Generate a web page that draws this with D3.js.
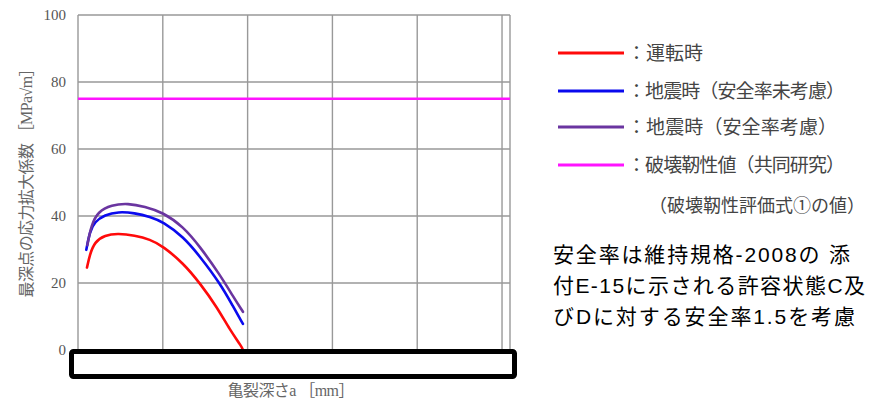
<!DOCTYPE html>
<html>
<head>
<meta charset="utf-8">
<script src="https://cdn.jsdelivr.net/npm/d3@7"></script>
<style>
  body { margin: 0; background: #fff; }
  svg { display: block; }
</style>
</head>
<body>
<div id="chart"></div>
<script>
const WIDTH = 875, HEIGHT = 400;
const PLOT = { left: 78, right: 510, top: 15, bottom: 350 };

// crack depth a [mm] vs stress intensity factor [MPa√m]
const operating = [[1.06, 24.6], [1.38, 28.4], [1.97, 32.3], [3.15, 34.3], [4.72, 34.8], [6.69, 34.2],
    [8.5, 33.0], [10.0, 31.0], [12.42, 25.9], [14.39, 19.9], [16.36, 12.9], [17.92, 6.0], [19.3, 1.0], [19.45, 0]];
const quakeNoFactor = [[0.98, 29.9], [1.38, 35.3], [1.97, 38.3], [3.15, 40.3], [4.72, 41.3], [6.69, 40.9],
    [8.5, 39.8], [10.0, 38.3], [12.42, 33.8], [14.39, 27.9], [16.75, 19.9], [18.31, 12.9], [19.45, 7.8]];
const quakeFactor = [[1.10, 31.3], [1.57, 37.3], [2.36, 41.3], [3.93, 43.3], [5.9, 43.8], [7.87, 42.8],
    [10.0, 41.1], [12.42, 36.8], [14.39, 30.8], [16.75, 22.4], [18.31, 15.9], [19.45, 11.4]];
const toughness = 75;

const xTicks = [0, 10, 20, 30, 40, 50];
const yTicks = [0, 20, 40, 60, 80, 100];
const legendLabels = ["：運転時", "：地震時（安全率未考慮）", "：地震時（安全率考慮）", "：破壊靭性値（共同研究）"];
const legendNote = "（破壊靭性評価式①の値）";
const noteLines = ["安全率は維持規格-2008の 添", "付E-15に示される許容状態C及", "びDに対する安全率1.5を考慮"];
const colors = ["#ff0a0a", "#0a0aee", "#6a35a0", "#ff14ff"];

const svg = d3.select("#chart").append("svg")
    .attr("width", WIDTH)
    .attr("height", HEIGHT)

const x = d3.scaleLinear().domain([0, 50.94]).range([PLOT.left, PLOT.right]);
const y = d3.scaleLinear().domain([0, 100]).range([PLOT.bottom, PLOT.top]);

// grid
const grid = svg.append("g").attr("stroke", "#999").attr("stroke-width", 1.4)
grid.selectAll("line.v").data(xTicks).enter().append("line")
    .attr("x1", d => x(d)).attr("x2", d => x(d))
    .attr("y1", PLOT.top).attr("y2", PLOT.bottom)
grid.selectAll("line.h").data(yTicks).enter().append("line")
    .attr("x1", PLOT.left).attr("x2", PLOT.right)
    .attr("y1", d => y(d)).attr("y2", d => y(d))
grid.append("line").attr("x1", PLOT.right).attr("x2", PLOT.right)
    .attr("y1", PLOT.top).attr("y2", PLOT.bottom)

// y tick labels
svg.append("g").selectAll("text").data(yTicks).enter().append("text")
    .attr("x", 66).attr("y", d => y(d) + 5)
    .attr("text-anchor", "end")
    .attr("font-family", "Liberation Serif, DejaVu Serif, serif")
    .attr("font-size", 15)
    .attr("fill", "#555")
    .text(d => d)

// fracture toughness line
svg.append("line")
    .attr("x1", PLOT.left).attr("x2", PLOT.right)
    .attr("y1", y(toughness)).attr("y2", y(toughness))
    .attr("stroke", colors[3]).attr("stroke-width", 2.6)

const line = d3.line().x(d => x(d[0])).y(d => y(d[1])).curve(d3.curveBasis);
[operating, quakeNoFactor, quakeFactor].forEach((s, i) => {
    svg.append("path").datum(s)
        .attr("d", line)
        .attr("fill", "none")
        .attr("stroke", colors[i])
        .attr("stroke-width", 2.6)
        .attr("stroke-linecap", "round")
})

// box covering the x tick labels
svg.append("rect")
    .attr("x", 71.5).attr("y", 351.5)
    .attr("width", 443).attr("height", 25)
    .attr("rx", 2)
    .attr("fill", "#fff").attr("stroke", "#000").attr("stroke-width", 5)

const CJK_SERIF = "Liberation Serif, Noto Sans CJK JP, serif";

// axis titles
svg.append("text")
    .attr("x", 291).attr("y", 396)
    .attr("text-anchor", "middle")
    .attr("font-family", CJK_SERIF)
    .attr("font-size", 16)
    .attr("fill", "#666")
    .attr("textLength", 127)
    .text("亀裂深さa ［mm］")

svg.append("text")
    .attr("transform", "translate(32,179) rotate(-90)")
    .attr("text-anchor", "middle")
    .attr("font-family", CJK_SERIF)
    .attr("font-size", 16)
    .attr("fill", "#666")
    .attr("textLength", 237)
    .text("最深点の応力拡大係数 ［MPa√m］")

// legend
const LEGEND_Y = [53, 91, 127, 165];
const LEGEND_W = [76, 218, 210, 218];
const legend = svg.append("g")
legendLabels.forEach((label, i) => {
    legend.append("line")
        .attr("x1", 558).attr("x2", 624)
        .attr("y1", LEGEND_Y[i]).attr("y2", LEGEND_Y[i])
        .attr("stroke", colors[i]).attr("stroke-width", 3)
    legend.append("text")
        .attr("x", 627).attr("y", LEGEND_Y[i] + 7)
        .attr("font-family", "Noto Sans CJK JP, sans-serif")
        .attr("font-size", 19)
        .attr("fill", "#444")
        .attr("textLength", LEGEND_W[i])
        .text(label)
})
legend.append("text")
    .attr("x", 649).attr("y", 212)
    .attr("font-family", "Noto Sans CJK JP, sans-serif")
    .attr("font-size", 18)
    .attr("fill", "#444")
    .attr("textLength", 216)
    .text(legendNote)

// note
const NOTE_W = [297, 312, 302];
svg.append("g").selectAll("text").data(noteLines).enter().append("text")
    .attr("x", 553).attr("y", (d, i) => 262 + i * 31)
    .attr("font-family", "Liberation Sans, Noto Sans CJK JP, sans-serif")
    .attr("font-size", 21)
    .attr("fill", "#000")
    .attr("textLength", (d, i) => NOTE_W[i])
    .text(d => d)
</script>
</body>
</html>
